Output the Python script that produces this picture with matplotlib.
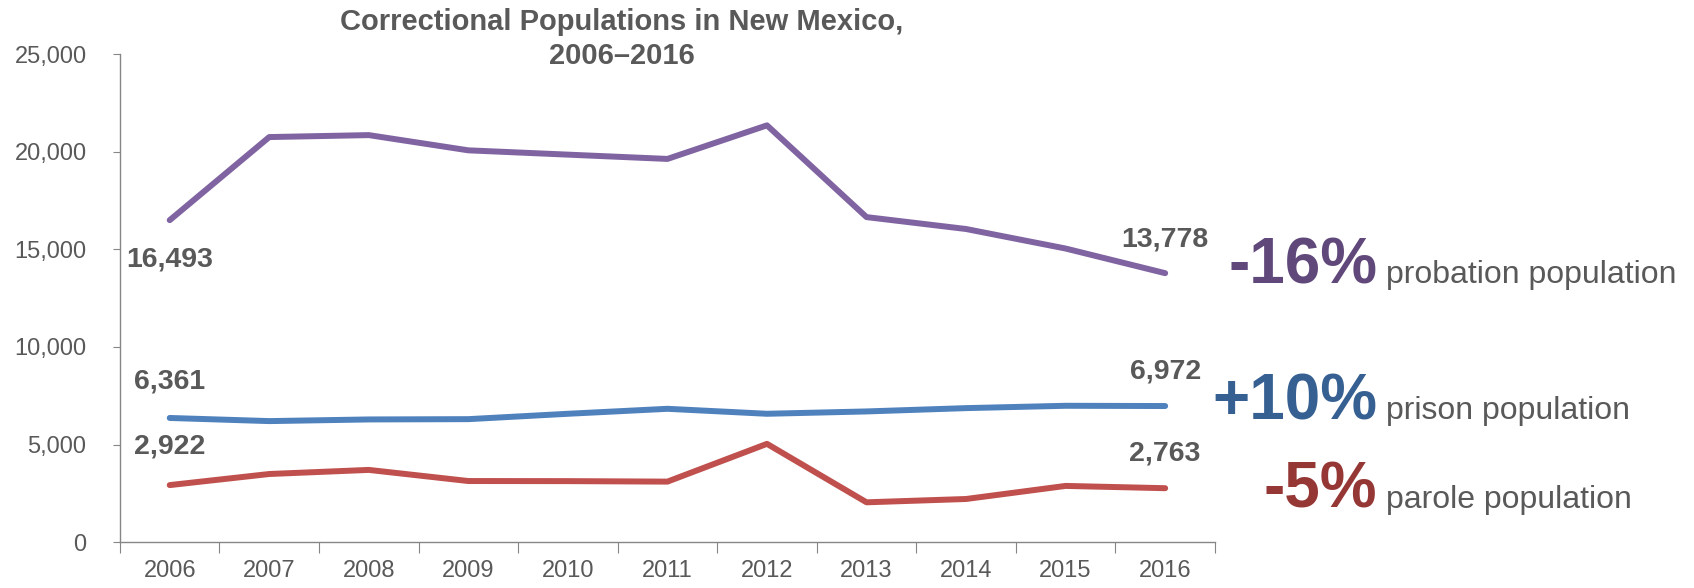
import matplotlib
matplotlib.use("Agg")
import matplotlib.pyplot as plt

plt.rcParams['font.family'] = ['Liberation Sans', 'DejaVu Sans']

years = ['2006', '2007', '2008', '2009', '2010', '2011', '2012', '2013', '2014', '2015', '2016']
probation = [16493, 20750, 20850, 20070, 19850, 19630, 21350, 16650, 16040, 15040, 13778]
prison = [6361, 6200, 6285, 6300, 6575, 6830, 6575, 6695, 6865, 6985, 6972]
parole = [2922, 3490, 3700, 3130, 3125, 3100, 5035, 2040, 2210, 2880, 2763]

series_names = ['probation population', 'prison population', 'parole population']
changes = ['-16%', '+10%', '-5%']
line_colors = ['#8064A2', '#4F81BD', '#C0504D']
pct_colors = ['#60497A', '#376092', '#953735']
gray = '#595959'

fig = plt.figure(figsize=(16.94, 5.88), dpi=100)
ax = fig.add_axes([0.0708, 0.078, 0.6464, 0.83])

x = list(range(len(years)))
for vals, c in zip([probation, prison, parole], line_colors):
    ax.plot(x, vals, color=c, lw=4.3, solid_capstyle='round', solid_joinstyle='round')

# end point labels
def label(xi, val, dy):
    ax.annotate(f'{val:,}', (xi, val), xytext=(0, dy), textcoords='offset points',
                ha='center', va='center', fontsize=20.5, fontweight='bold', color=gray)

label(0, probation[0], -28)
label(10, probation[-1], 24)
label(0, prison[0], 26)
label(10, prison[-1], 25)
label(0, parole[0], 28)
label(10, parole[-1], 25)

ax.set_xlim(-0.5, 10.5)
ax.set_ylim(0, 25000)
ax.set_yticks(range(0, 25001, 5000))
ax.set_yticklabels([f'{v:,}' for v in range(0, 25001, 5000)])
ax.set_xticks([i - 0.5 for i in range(12)])
ax.set_xticklabels([])
ax.set_xticks(x, minor=True)
ax.set_xticklabels(years, minor=True)
ax.tick_params(axis='x', which='major', length=8, color='#868686', direction='out')
ax.tick_params(axis='x', which='minor', length=0, pad=13, labelsize=17, labelcolor=gray)
ax.tick_params(axis='y', length=5, color='#868686', pad=19, labelsize=17, labelcolor=gray)

for s in ['top', 'right']:
    ax.spines[s].set_visible(False)
for s in ['left', 'bottom']:
    ax.spines[s].set_color('#868686')
    ax.spines[s].set_linewidth(1)

fig.text(0.367, 1 - 39 / 588, 'Correctional Populations in New Mexico,\n2006\u20132016',
         ha='center', va='center', fontsize=21, fontweight='bold', color=gray, linespacing=1.25)

# right-hand change annotations
baselines = [283, 419, 508]
for name, ch, c, yb in zip(series_names, changes, pct_colors, baselines):
    fig.text(1377 / 1694, 1 - yb / 588, ch, ha='right', va='baseline',
             fontsize=46, fontweight='bold', color=c)
    fig.text(1386 / 1694, 1 - yb / 588, name, ha='left', va='baseline',
             fontsize=23, color=gray)

fig.savefig('out.png', dpi=100)
